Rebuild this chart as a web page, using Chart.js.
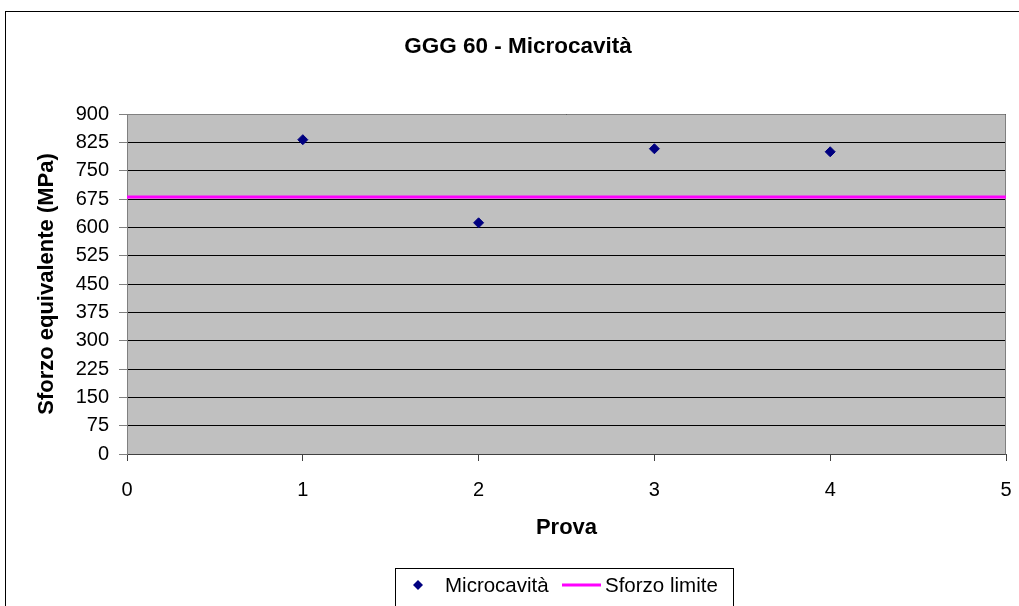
<!DOCTYPE html>
<html>
<head>
<meta charset="utf-8">
<title>GGG 60 - Microcavità</title>
<script src="https://cdn.jsdelivr.net/npm/chart.js@4.4.1/dist/chart.umd.min.js"></script>
<style>
  html, body { margin: 0; padding: 0; background: #ffffff; }
  #wrap { width: 1019px; height: 606px; position: relative; }
</style>
</head>
<body>
<div id="wrap"><canvas id="chart" width="1019" height="606"></canvas></div>
<script>
// Test results: equivalent stress per test
const chartTitle = 'GGG 60 - Microcavità';
const xAxisTitle = 'Prova';
const yAxisTitle = 'Sforzo equivalente (MPa)';
const testNumbers = [1, 2, 3, 4];
const microcavityStress = [832, 612, 808, 800];
const limitX = [0, 1, 2, 3, 4, 5];
const limitStress = [680, 680, 680, 680, 680, 680];
const seriesNames = ['Microcavità', 'Sforzo limite'];
const xTicks = [0, 1, 2, 3, 4, 5];
const yTicks = [0, 75, 150, 225, 300, 375, 450, 525, 600, 675, 750, 825, 900];

const FONT = "'Liberation Sans', Arial, sans-serif";
const NAVY = '#000080';
const MAGENTA = '#FF00FF';

// Gray plot background, frame, outer border, title and legend box
const decorations = {
  id: 'decorations',
  beforeDraw(chart) {
    const { ctx, chartArea: a } = chart;
    ctx.save();
    ctx.fillStyle = '#ffffff';
    ctx.fillRect(0, 0, chart.width, chart.height);
    ctx.fillStyle = '#C0C0C0';
    ctx.fillRect(a.left, a.top, a.right - a.left, a.bottom - a.top);
    ctx.restore();
  },
  beforeDatasetsDraw(chart) {
    const { ctx, chartArea: a } = chart;
    ctx.save();
    ctx.strokeStyle = '#808080';
    ctx.lineWidth = 1;
    ctx.beginPath();
    ctx.moveTo(Math.round(a.left) + 0.5, Math.round(a.top) + 0.5);
    ctx.lineTo(Math.round(a.right) - 0.5, Math.round(a.top) + 0.5);
    ctx.lineTo(Math.round(a.right) - 0.5, Math.round(a.bottom) + 0.5);
    ctx.stroke();
    ctx.restore();
  },
  afterDraw(chart) {
    const { ctx } = chart;
    ctx.save();
    // outer chart border
    ctx.strokeStyle = '#000000';
    ctx.lineWidth = 1;
    ctx.strokeRect(5.5, 11.5, chart.width + 40, chart.height + 40);

    // title
    ctx.fillStyle = '#000000';
    ctx.font = 'bold 22.5px ' + FONT;
    ctx.textAlign = 'center';
    ctx.textBaseline = 'alphabetic';
    ctx.fillText(chartTitle, 518, 53);

    // legend
    ctx.strokeStyle = '#000000';
    ctx.strokeRect(395.5, 568.5, 338, 60);
    const ly = 585;
    ctx.fillStyle = NAVY;
    ctx.beginPath();
    ctx.moveTo(418, ly - 5);
    ctx.lineTo(423, ly);
    ctx.lineTo(418, ly + 5);
    ctx.lineTo(413, ly);
    ctx.closePath();
    ctx.fill();
    ctx.fillStyle = '#000000';
    ctx.font = '20.5px ' + FONT;
    ctx.textAlign = 'left';
    ctx.fillText(seriesNames[0], 445, 592);
    ctx.strokeStyle = MAGENTA;
    ctx.lineWidth = 3;
    ctx.beginPath();
    ctx.moveTo(562, ly);
    ctx.lineTo(601, ly);
    ctx.stroke();
    ctx.fillStyle = '#000000';
    ctx.fillText(seriesNames[1], 605, 592);
    ctx.restore();
  }
};

const ctx = document.getElementById('chart').getContext('2d');
new Chart(ctx, {
  type: 'scatter',
  data: {
    datasets: [
      {
        label: seriesNames[0],
        data: testNumbers.map((x, i) => ({ x: x, y: microcavityStress[i] })),
        pointStyle: 'rectRot',
        pointRadius: 5,
        pointHoverRadius: 5,
        pointBackgroundColor: NAVY,
        pointBorderColor: NAVY,
        pointBorderWidth: 1,
        showLine: false,
        order: 0
      },
      {
        label: seriesNames[1],
        data: limitX.map((x, i) => ({ x: x, y: limitStress[i] })),
        showLine: true,
        borderColor: MAGENTA,
        borderWidth: 3,
        pointRadius: 0,
        fill: false,
        order: 1
      }
    ]
  },
  options: {
    responsive: false,
    animation: false,
    devicePixelRatio: 1,
    layout: { padding: { top: 114, right: 13, left: 0, bottom: 0 } },
    plugins: {
      legend: { display: false },
      title: { display: false },
      tooltip: { enabled: false }
    },
    scales: {
      x: {
        type: 'linear',
        min: 0,
        max: 5,
        afterFit(scale) {
          scale.height = 152;
          scale.paddingLeft = 0;
          scale.paddingRight = 0;
        },
        afterBuildTicks(scale) { scale.ticks = xTicks.map(v => ({ value: v })); },
        ticks: {
          color: '#000000',
          font: { family: FONT, size: 20 },
          padding: 17,
          maxRotation: 0
        },
        grid: {
          drawOnChartArea: false,
          drawTicks: true,
          tickLength: 7,
          tickColor: '#404040',
          color: '#404040'
        },
        border: { color: '#404040', width: 1 },
        title: {
          display: true,
          text: xAxisTitle,
          color: '#000000',
          font: { family: FONT, size: 22, weight: 'bold' },
          padding: { top: 0, bottom: 65 }
        }
      },
      y: {
        type: 'linear',
        min: 0,
        max: 900,
        afterFit(scale) {
          scale.width = 127;
          scale.paddingTop = 0;
          scale.paddingBottom = 0;
        },
        afterBuildTicks(scale) { scale.ticks = yTicks.map(v => ({ value: v })); },
        ticks: {
          color: '#000000',
          font: { family: FONT, size: 20 },
          padding: 10
        },
        grid: {
          color: '#000000',
          lineWidth: 1,
          drawTicks: true,
          tickLength: 8,
          tickColor: '#808080'
        },
        border: { color: '#808080', width: 1 },
        title: {
          display: true,
          text: yAxisTitle,
          color: '#000000',
          font: { family: FONT, size: 22, weight: 'bold' },
          padding: { top: 34, bottom: 0 }
        }
      }
    }
  },
  plugins: [decorations]
});
</script>
</body>
</html>
